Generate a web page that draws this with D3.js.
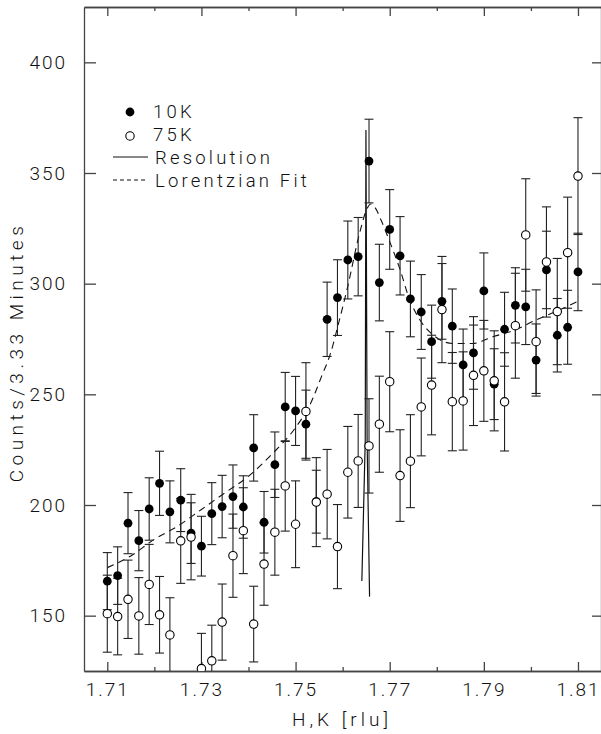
<!DOCTYPE html>
<html>
<head>
<meta charset="utf-8">
<script src="https://cdn.jsdelivr.net/npm/d3@7"></script>
<style>
body { margin:0; background:#fff; }
text { font-family: Roboto, "DejaVu Sans Condensed", sans-serif; font-weight:300; fill:#111; }
</style>
</head>
<body>
<div id="chart"></div>
<script>
// CHART
const width = 601
const height = 734
const margin = {top:7, right:0, bottom:63, left:84}

// datos (H,K en rlu)
const hk = [1.7100,1.7122,1.7144,1.7167,1.7189,1.7211,1.7233,1.7256,1.7278,1.7300,
    1.7322,1.7344,1.7367,1.7389,1.7411,1.7433,1.7456,1.7478,1.7500,1.7522,
    1.7544,1.7567,1.7589,1.7611,1.7633,1.7656,1.7678,1.7700,1.7722,1.7744,
    1.7767,1.7789,1.7811,1.7833,1.7856,1.7878,1.7900,1.7922,1.7944,1.7967,
    1.7989,1.8011,1.8033,1.8056,1.8078,1.8100]
const counts10K = [165.6,168.1,191.8,183.9,198.2,209.8,196.9,202.2,187.3,181.4,
    196.1,199.3,203.8,199.1,225.8,192.2,218.2,244.3,242.5,236.5,
    201.5,283.9,293.7,310.7,312.2,355.4,300.5,324.5,312.6,293.1,
    287.2,273.8,292.0,280.8,263.3,268.7,296.7,254.6,279.4,290.2,
    289.5,265.5,306.2,276.7,280.3,305.3]
const err10K = [12.9,13.0,13.8,13.6,14.1,14.5,14.0,14.2,13.7,13.5,
    14.0,14.1,14.3,14.1,15.0,13.9,14.8,15.6,15.6,15.4,
    14.2,16.8,17.1,17.6,17.7,18.9,17.3,18.0,17.7,17.1,
    16.9,16.5,17.1,16.8,16.2,16.4,17.2,16.0,16.7,17.0,
    17.0,16.3,17.5,16.6,16.7,17.5]
const counts75K = [150.9,149.6,157.4,149.9,164.1,150.4,141.3,183.8,185.5,126.1,
    129.6,147.1,177.1,188.4,146.2,173.3,187.7,208.6,191.3,242.3,
    201.3,204.9,181.2,214.8,219.9,226.7,236.5,255.7,213.3,219.8,
    244.3,254.2,288.3,246.7,247.0,258.6,260.6,256.1,246.6,281.0,
    322.0,273.8,309.8,287.4,314.0,348.6]
const err75K = [17.4,17.3,17.7,17.3,18.1,17.3,16.8,19.2,19.3,15.9,
    16.1,17.2,18.8,19.4,17.1,18.6,19.4,20.4,19.6,22.0,
    20.1,20.2,19.0,20.7,21.0,21.3,21.7,22.6,20.7,21.0,
    22.1,22.5,24.0,22.2,22.2,22.7,22.8,22.6,22.2,23.7,
    25.4,23.4,24.9,24.0,25.1,26.4]

// resolucion y ajuste lorentziano
const resHK = [1.76408,1.76480,1.76495,1.76520,1.76572]
const resCounts = [165.7,229,369.4,229,158.6]
const fitHK = [1.7100,1.7150,1.7200,1.7250,1.7300,1.7350,1.7400,1.7450,1.7500,1.7530,
    1.7555,1.7575,1.7590,1.7610,1.7636,1.7650,1.7660,1.7670,1.7682,1.7700,
    1.7721,1.7742,1.7763,1.7791,1.7834,1.7876,1.7919,1.7965,1.8011,1.8053,1.8100]
const fitCounts = [171.7,177,184.5,190.5,198,205.5,213,223,235,245,
    258,269,281,298,322.8,333,336,334,328.5,319,
    307,293,284,277,273,273,276,279,283.6,287.4,292]

// ticks
const xTicks = [1.71,1.73,1.75,1.77,1.79,1.81]
const xMinorTicks = [1.72,1.74,1.76,1.78,1.80]
const yTicks = [150,200,250,300,350,400]

const svg = d3.select("#chart")
    .append("svg")
    .attr("width", width)
    .attr("height", height)

const x = d3.scaleLinear()
    .domain([1.70505, 1.81489])
    .range([margin.left, width - margin.right])
const y = d3.scaleLinear()
    .domain([125, 425])
    .range([height - margin.bottom, margin.top])

svg.append("clipPath").attr("id","plotClip")
    .append("rect")
    .attr("x", margin.left).attr("y", margin.top)
    .attr("width", width - margin.right - margin.left)
    .attr("height", height - margin.bottom - margin.top)

//ejes
const axisColor = "#444"
function styleAxis(g) {
    g.select(".domain").attr("stroke", axisColor).attr("stroke-width", 1.3)
    g.selectAll(".tick line").attr("stroke", axisColor).attr("stroke-width", 1.3)
    g.selectAll("text").attr("font-size", 19).attr("letter-spacing", 2)
        .attr("font-family", null).attr("fill", "#111")
}
svg.append("g")
    .attr("transform", `translate(0,${height - margin.bottom})`)
    .call(d3.axisBottom(x).tickValues(xTicks).tickSizeInner(-9).tickSizeOuter(0)
        .tickPadding(12).tickFormat(d3.format(".2f")))
    .call(styleAxis)
svg.append("g")
    .attr("transform", `translate(0,${height - margin.bottom})`)
    .call(d3.axisBottom(x).tickValues(xMinorTicks).tickSizeInner(-4).tickSizeOuter(0).tickFormat(""))
    .call(styleAxis)
svg.append("g")
    .attr("transform", `translate(0,${margin.top})`)
    .call(d3.axisTop(x).tickValues(xTicks).tickSizeInner(-9).tickSizeOuter(0).tickFormat(""))
    .call(styleAxis)
svg.append("g")
    .attr("transform", `translate(0,${margin.top})`)
    .call(d3.axisTop(x).tickValues(xMinorTicks).tickSizeInner(-4).tickSizeOuter(0).tickFormat(""))
    .call(styleAxis)
svg.append("g")
    .attr("transform", `translate(${margin.left},0)`)
    .call(d3.axisLeft(y).tickValues(yTicks).tickSizeInner(-12).tickSizeOuter(0).tickPadding(17))
    .call(styleAxis)
svg.append("g")
    .attr("transform", `translate(${width - margin.right},0)`)
    .call(d3.axisRight(y).tickValues(yTicks).tickSizeInner(-9).tickSizeOuter(0).tickFormat(""))
    .call(styleAxis)

// etiquetas de ejes
svg.append("text")
    .attr("x", 342).attr("y", 726)
    .attr("text-anchor", "middle")
    .attr("font-size", 19).attr("letter-spacing", 4)
    .text("H,K [rlu]")
svg.append("text")
    .attr("transform", "translate(23,352) rotate(-90)")
    .attr("text-anchor", "middle")
    .attr("font-size", 19).attr("letter-spacing", 4.5)
    .text("Counts/3.33 Minutes")

const plot = svg.append("g").attr("clip-path", "url(#plotClip)")

// curvas
const line = d3.line().x(d => x(d[0])).y(d => y(d[1]))
plot.append("path")
    .datum(d3.zip(fitHK, fitCounts))
    .attr("fill", "none").attr("stroke", "#111").attr("stroke-width", 1.1)
    .attr("stroke-dasharray", "7,5")
    .attr("d", line.curve(d3.curveMonotoneX))
plot.append("path")
    .datum(d3.zip(resHK, resCounts))
    .attr("fill", "none").attr("stroke", "#111").attr("stroke-width", 1.2)
    .attr("d", d3.line().x(d => x(d[0])).y(d => y(d[1])))

// barras de error
const cap = 4.5
function errorBars(vals, errs) {
    const g = plot.append("g").attr("stroke", "#222").attr("stroke-width", 1.1)
    const data = hk.map((h, i) => ({h: h, v: vals[i], e: errs[i]}))
    g.selectAll(".bar").data(data).join("line")
        .attr("x1", d => x(d.h)).attr("x2", d => x(d.h))
        .attr("y1", d => y(d.v - d.e)).attr("y2", d => y(d.v + d.e))
    g.selectAll(".capTop").data(data).join("line").attr("class","capTop")
        .attr("x1", d => x(d.h) - cap).attr("x2", d => x(d.h) + cap)
        .attr("y1", d => y(d.v + d.e)).attr("y2", d => y(d.v + d.e))
    g.selectAll(".capBot").data(data).join("line").attr("class","capBot")
        .attr("x1", d => x(d.h) - cap).attr("x2", d => x(d.h) + cap)
        .attr("y1", d => y(d.v - d.e)).attr("y2", d => y(d.v - d.e))
}
errorBars(counts10K, err10K)
errorBars(counts75K, err75K)

// puntos
plot.append("g").selectAll("circle").data(hk).join("circle")
    .attr("cx", d => x(d)).attr("cy", (d, i) => y(counts10K[i]))
    .attr("r", 4.4).attr("fill", "#000")
plot.append("g").selectAll("circle").data(hk).join("circle")
    .attr("cx", d => x(d)).attr("cy", (d, i) => y(counts75K[i]))
    .attr("r", 4.2).attr("fill", "#fff").attr("stroke", "#000").attr("stroke-width", 1.1)

// leyenda
const legend = svg.append("g")
legend.append("circle").attr("cx", 130).attr("cy", 112).attr("r", 4.4).attr("fill", "#000")
legend.append("circle").attr("cx", 130).attr("cy", 136).attr("r", 4.2)
    .attr("fill", "#fff").attr("stroke", "#000").attr("stroke-width", 1.1)
legend.append("line").attr("x1", 113).attr("x2", 148).attr("y1", 157).attr("y2", 157)
    .attr("stroke", "#111").attr("stroke-width", 1.1)
legend.append("line").attr("x1", 113).attr("x2", 148).attr("y1", 180).attr("y2", 180)
    .attr("stroke", "#111").attr("stroke-width", 1.1).attr("stroke-dasharray", "4,3")
const legendItems = [["10K", 153, 111.5], ["75K", 153, 134.5], ["Resolution", 155, 157.5], ["Lorentzian Fit", 155, 180.5]]
legend.selectAll("text").data(legendItems).join("text")
    .attr("x", d => d[1]).attr("y", d => d[2]).attr("dy", "0.36em")
    .attr("font-size", 18.5).attr("letter-spacing", 3.2)
    .text(d => d[0])
</script>
</body>
</html>
